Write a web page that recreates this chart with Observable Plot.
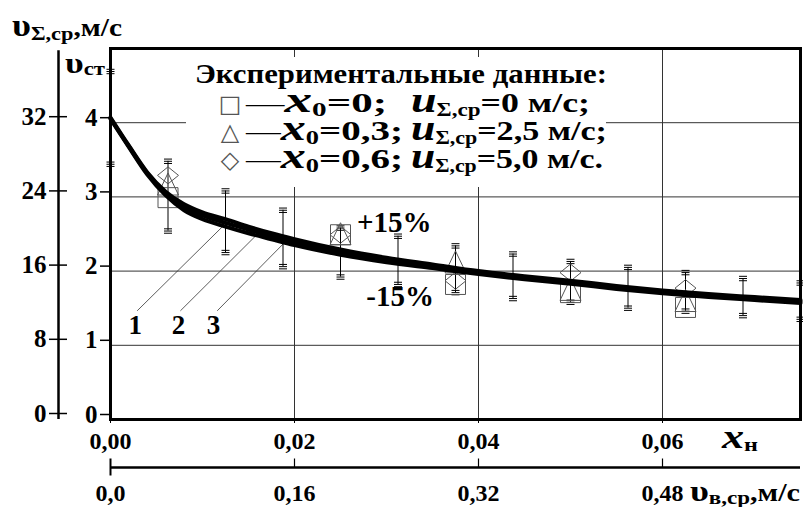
<!DOCTYPE html>
<html><head><meta charset="utf-8">
<script src="https://cdn.jsdelivr.net/npm/d3@7"></script>
<script src="https://cdn.jsdelivr.net/npm/@observablehq/plot@0.6"></script>
<style>
body{margin:0;background:#fff;}
#wrap{position:relative;width:803px;height:507px;overflow:hidden;}
</style></head><body><div id="wrap"></div>
<script>
// ---- axis ticks & labels
const xTicks = [0, 0.02, 0.04, 0.06];
const xTickLabels = ["0,00", "0,02", "0,04", "0,06"];
const vbTickLabels = ["0,0", "0,16", "0,32", "0,48"];
const yTicks = [0, 1, 2, 3, 4];
const yInnerLabels = ["0", "1", "2", "3", "4"];
const yOuterLabels = ["0", "8", "16", "24", "32"];

// ---- calculated curves 1, 2, 3 (x_н, υст)
const curveX = [0, 0.002, 0.004, 0.006, 0.008, 0.010, 0.0125, 0.015, 0.0175, 0.020, 0.025, 0.030, 0.035, 0.040, 0.045, 0.050, 0.055, 0.060, 0.065, 0.070, 0.075];
const curve1 = [4.05, 3.67, 3.30, 3.02, 2.82, 2.70, 2.60, 2.51, 2.43, 2.35, 2.22, 2.12, 2.04, 1.96, 1.89, 1.83, 1.76, 1.70, 1.65, 1.61, 1.57];
const curve2 = [4.06, 3.68, 3.32, 3.05, 2.86, 2.75, 2.65, 2.56, 2.47, 2.39, 2.25, 2.15, 2.06, 1.98, 1.91, 1.85, 1.78, 1.72, 1.67, 1.63, 1.59];
const curve3 = [4.07, 3.69, 3.33, 3.07, 2.90, 2.79, 2.70, 2.60, 2.51, 2.43, 2.29, 2.18, 2.09, 2.00, 1.93, 1.87, 1.80, 1.74, 1.69, 1.65, 1.61];

// ---- ±15% error bars
const errX = [0, 0.00625, 0.0125, 0.01875, 0.025, 0.03125, 0.0375, 0.04375, 0.05, 0.05625, 0.0625, 0.06875, 0.075];
const errUpper = [4.69, 3.48, 3.08, 2.82, 2.58, 2.47, 2.34, 2.23, 2.13, 2.05, 1.98, 1.90, 1.84];
const errLower = [3.44, 2.54, 2.25, 2.06, 1.92, 1.82, 1.71, 1.63, 1.58, 1.50, 1.46, 1.40, 1.35];

// ---- experimental data
const expX = [0.00625, 0.025, 0.0375, 0.05, 0.0625];
const squareY = [2.99, 2.49, 1.82, 1.71, 1.51];
const triangleY = [3.16, 2.49, 2.11, 1.74, 1.59];
const diamondY = [3.29, 2.49, 1.87, 1.98, 1.77];

// ---- annotations
const curveLabels = ["1", "2", "3"];
const curveLabelX = [0.0027, 0.0074, 0.0112];
const curveLabelY = [1.27, 1.27, 1.27];
const leaderX1 = [0.0029, 0.0076, 0.0116];
const leaderY1 = [1.465, 1.465, 1.465];
const leaderX2 = [0.01226, 0.01574, 0.0188];
const leaderY2 = [2.61, 2.47, 2.37];
const bandTexts = ["+15%", "-15%"];
const bandX = [0.0268, 0.0278];
const bandY = [2.65, 1.66];

// ---- font choice (first installed serif)
function fontAvailable(name) {
  const ctx = document.createElement("canvas").getContext("2d");
  const s = "mmmmmmmmmwwwwwlli0123456789Экспериментальные";
  for (const base of ["monospace", "sans-serif"]) {
    ctx.font = `bold 40px ${base}`; const w0 = ctx.measureText(s).width;
    ctx.font = `bold 40px "${name}", ${base}`; const w1 = ctx.measureText(s).width;
    if (Math.abs(w0 - w1) < 0.01) return false;
  }
  return true;
}
const serifName = ["Liberation Serif", "Tinos", "DejaVu Serif", "Noto Serif", "FreeSerif", "Nimbus Roman", "Times New Roman"].find(fontAvailable);
const FONT = serifName ? `"${serifName}", serif` : "serif";

// ---- build tables
const curves = [curve1, curve2, curve3];
const curveData = curves.flatMap((c, k) => curveX.map((x, i) => ({x, y: c[i], k})));
const errData = errX.map((x, i) => ({x, hi: errUpper[i], lo: errLower[i]}));
const sqData = expX.map((x, i) => ({x, y: squareY[i]}));
const trData = expX.map((x, i) => ({x, y: triangleY[i]}));
const diData = expX.map((x, i) => ({x, y: diamondY[i]}));
const labData = curveLabels.map((t, i) => ({t, x: curveLabelX[i], y: curveLabelY[i]}));
const leadData = curveLabels.map((t, i) => ({x1: leaderX1[i], y1: leaderY1[i], x2: leaderX2[i], y2: leaderY2[i]}));
const bandData = bandTexts.map((t, i) => ({t, x: bandX[i], y: bandY[i]}));

// ---- custom symbols
const capSym = {draw(c) { for (const d of [-2.2, 0, 2.2]) { c.moveTo(-4, d); c.lineTo(4, d); } }};
const squareSym = {draw(c) { c.moveTo(-10, -10); c.lineTo(10, -10); c.lineTo(10, 10); c.lineTo(-10, 10); c.closePath(); }};
const triSym = {draw(c) { c.moveTo(0, -12); c.lineTo(10.5, 10); c.lineTo(-10.5, 10); c.closePath(); }};
const diaSym = {draw(c) { c.moveTo(0, -8.5); c.lineTo(10.5, 0); c.lineTo(0, 8.5); c.lineTo(-10.5, 0); c.closePath(); }};
const tickUp = {draw(c) { c.moveTo(0, 0); c.lineTo(0, -9); }};
const tickBoth = {draw(c) { c.moveTo(0, 8); c.lineTo(0, -9); }};

const lookup = (ticks, labels) => d => labels[ticks.indexOf(d)];

const plot = Plot.plot({
  width: 803, height: 507,
  marginLeft: 110, marginRight: 3, marginTop: 48, marginBottom: 88,
  x: {domain: [0, 0.075]},
  y: {domain: [0, 5]},
  style: {fontFamily: FONT, fontWeight: "bold", color: "black", background: "white", overflow: "visible"},
  marks: [
    Plot.gridX({ticks: [0.02, 0.04, 0.06], stroke: "#333", strokeOpacity: 1, strokeWidth: 1}),
    Plot.gridY({ticks: [1, 2, 3, 4], stroke: "#333", strokeOpacity: 1, strokeWidth: 1}),
    Plot.link(leadData, {x1: "x1", y1: "y1", x2: "x2", y2: "y2", stroke: "#333", strokeWidth: 0.8}),
    Plot.ruleX(errData, {x: "x", y1: "lo", y2: "hi", stroke: "black", strokeWidth: 1}),
    Plot.dot(errData, {x: "x", y: "hi", symbol: capSym, stroke: "black", fill: "none", strokeWidth: 1}),
    Plot.dot(errData, {x: "x", y: "lo", symbol: capSym, stroke: "black", fill: "none", strokeWidth: 1}),
    Plot.dot(sqData, {x: "x", y: "y", symbol: squareSym, stroke: "#555", fill: "none", strokeWidth: 1}),
    Plot.dot(trData, {x: "x", y: "y", symbol: triSym, stroke: "#555", fill: "none", strokeWidth: 1}),
    Plot.dot(diData, {x: "x", y: "y", symbol: diaSym, stroke: "#555", fill: "none", strokeWidth: 1}),
    Plot.line(curveData, {x: "x", y: "y", z: "k", stroke: "black", strokeWidth: 4, curve: "monotone-x"}),
    Plot.text(labData, {x: "x", y: "y", text: "t", fontSize: 27, fontWeight: "bold"}),
    Plot.text(bandData, {x: "x", y: "y", text: "t", fontSize: 29, fontWeight: "bold", textAnchor: "start"}),
    Plot.frame({stroke: "black", strokeWidth: 3}),
    Plot.axisX({ticks: xTicks, tickFormat: lookup(xTicks, xTickLabels), tickSize: 4, tickPadding: 8, fontSize: 24, fontWeight: "bold"}),
    Plot.axisX({ticks: xTicks, tickFormat: lookup(xTicks, vbTickLabels), tickSize: 0, tickPadding: 12, dy: 52, fontSize: 24, fontWeight: "bold"}),
    Plot.ruleY([0], {dy: 48, stroke: "black", strokeWidth: 2.5}),
    Plot.dot(xTicks.slice(1), {x: d => d, y: d => 0, dy: 48, symbol: tickUp, stroke: "black", strokeWidth: 1.2}),
    Plot.dot([0], {x: d => d, y: d => 0, dy: 48, symbol: tickBoth, stroke: "black", strokeWidth: 2}),
    Plot.axisY({ticks: yTicks, tickFormat: lookup(yTicks, yInnerLabels), tickSize: 10, tickPadding: 3, dy: -5, fontSize: 25, fontWeight: "bold", strokeWidth: 1.5}),
    Plot.axisY({ticks: yTicks, tickFormat: lookup(yTicks, yOuterLabels), tickSize: 18, tickPadding: 3, dx: -43, dy: -6, fontSize: 25, fontWeight: "bold", strokeWidth: 1.5}),
    Plot.ruleX([0], {y1: 0, y2: 4.97, dx: -52, stroke: "black", strokeWidth: 2.5})
  ]
});

document.getElementById("wrap").appendChild(plot);

// ---- rich-text annotations (titles, legend) as SVG text
const svg = d3.select(plot);
const g = svg.append("g").attr("font-family", FONT).attr("font-weight", "bold").attr("fill", "black").attr("text-anchor", "start");
function rich(x, y, parts, width) {
  const t = g.append("text").attr("x", x).attr("y", y).attr("text-anchor", "start");
  parts.forEach(p => {
    const s = t.append("tspan").text(p.text).attr("font-size", p.size);
    if (p.italic) s.attr("font-style", "italic");
    if (p.dy) s.attr("dy", p.dy);
    if (p.normal) s.attr("font-weight", "normal");
  });
  if (width) t.attr("textLength", width).attr("lengthAdjust", "spacingAndGlyphs");
  return t;
}
// axis titles
rich(12, 36, [{text: "υ", size: 31}, {text: "Σ,ср", size: 19, dy: 4}, {text: ",м/с", size: 25, dy: -4}], 110);
rich(65, 73, [{text: "υ", size: 30}, {text: "ст", size: 19, dy: 2}], 40);
rich(722, 448, [{text: "x", size: 33, italic: true}, {text: "н", size: 18, dy: 3}], 36);
rich(690, 501, [{text: "υ", size: 30}, {text: "в,ср", size: 19, dy: 3}, {text: ",м/с", size: 25, dy: -3}], 110);

// legend box
const legendSymbols = ["□", "△", "◇"];
const legendX0 = ["0;", "0,3;", "0,6;"];
const legendU = ["0 м/с;", "2,5 м/с;", "5,0 м/с."];
const leftEnds = [387, 403, 403];
const rightEnds = [590, 607, 603];
g.append("rect").attr("x", 186).attr("y", 57).attr("width", 420).attr("height", 130).attr("fill", "white");
rich(195, 83, [{text: "Экспериментальные данные:", size: 27}], 412);
legendSymbols.forEach((s, i) => {
  const base = 112 + i * 28;
  g.append("text").attr("x", 230).attr("y", base).attr("text-anchor", "middle")
    .attr("font-family", "DejaVu Sans").attr("font-weight", "normal").attr("font-size", 24).attr("fill", "#555").text(s);
  rich(246, base, [{text: "—", size: 25, normal: true}, {text: "x", size: 36, italic: true}, {text: "0", size: 19, dy: 4}, {text: "=" + legendX0[i], size: 28, dy: -4}], leftEnds[i] - 246);
  rich(411, base, [{text: "u", size: 36, italic: true}, {text: "Σ,ср", size: 18, dy: 4}, {text: "=" + legendU[i], size: 28, dy: -4}], rightEnds[i] - 411);
});
</script>
</body></html>
